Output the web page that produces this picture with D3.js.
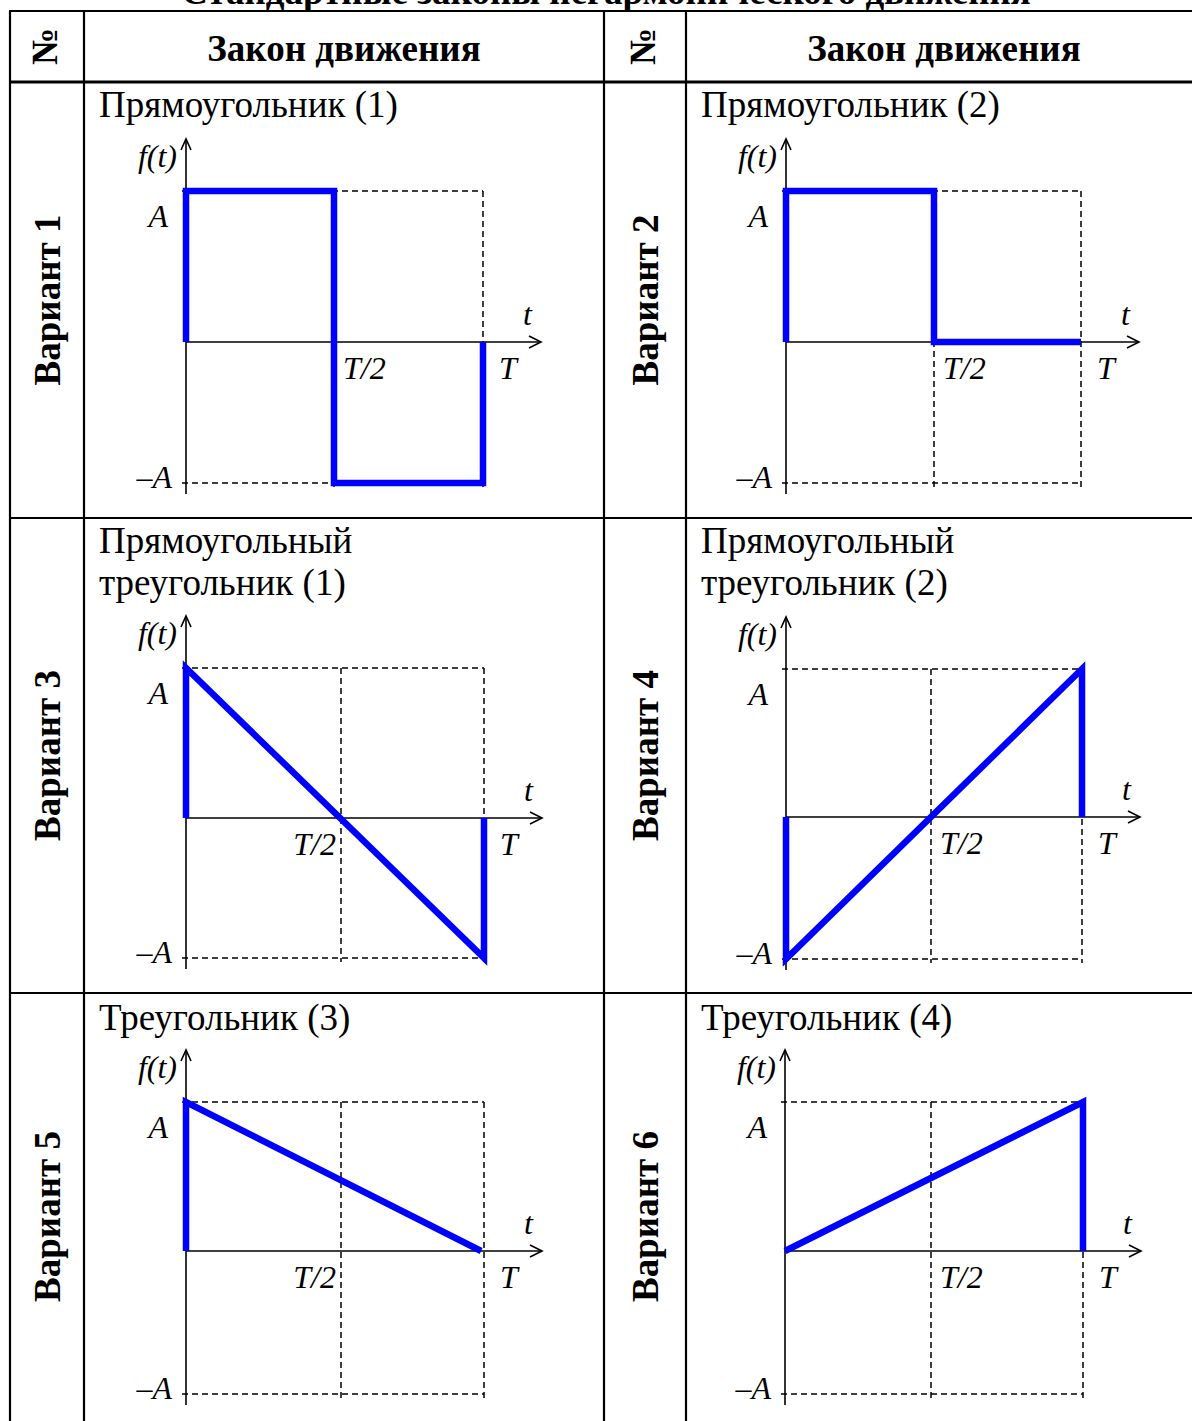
<!DOCTYPE html>
<html>
<head>
<meta charset="utf-8">
<script src="https://cdn.jsdelivr.net/npm/d3@7"></script>
<style>
body { margin: 0; background: #fff; }
text { font-family: "Liberation Serif", "Times New Roman", serif; fill: #000; }
.head { font-weight: bold; font-size: 37px; }
.law { font-size: 37px; }
.lbl { font-style: italic; font-size: 32px; }
.axis { stroke: #000; stroke-width: 1.6; fill: none; }
.guide { stroke: #000; stroke-width: 1.5; stroke-dasharray: 6,4; fill: none; }
.law-line { stroke: #0000ff; stroke-width: 6.5; fill: none; stroke-linejoin: miter; stroke-linecap: butt; }
.grid { stroke: #000; stroke-width: 2.2; fill: none; }
</style>
</head>
<body>
<svg width="1192" height="1421"></svg>
<script>
// data
var tableTitle = "Стандартные законы негармонического движения";
var headers = ["№", "Закон движения"];
var variants = ["Вариант 1", "Вариант 2", "Вариант 3", "Вариант 4", "Вариант 5", "Вариант 6"];
var lawNames = [
  ["Прямоугольник (1)"],
  ["Прямоугольник (2)"],
  ["Прямоугольный", "треугольник (1)"],
  ["Прямоугольный", "треугольник (2)"],
  ["Треугольник (3)"],
  ["Треугольник (4)"]
];
// points of f(t): [t in periods, f in units of A]
var law1 = [[0, 0], [0, 1], [0.5, 1], [0.5, -1], [1, -1], [1, 0]];
var law2 = [[0, 0], [0, 1], [0.5, 1], [0.5, 0], [1, 0]];
var law3 = [[0, 0], [0, 1], [1, -1], [1, 0]];
var law4 = [[0, 0], [0, -1], [1, 1], [1, 0]];
var law5 = [[0, 0], [0, 1], [0.99, 0]];
var law6 = [[0, 0], [1, 1], [1, 0]];
var laws = [law1, law2, law3, law4, law5, law6];
var xTicks = [0.5, 1];
var xTickLabels = ["T/2", "T"];
var yTicks = [1, -1];
var yTickLabels = ["A", "–A"];

var svg = d3.select("svg");

// table layout
var colX = [10, 84, 604, 686, 1202];
var rowY = [11, 82, 518, 993, 1440];

// hand drawn panels, so each one gets its own scale ranges
var panels = [
  {x: [186, 334, 483], y: [483, 342, 191], half: "start"},
  {x: [786, 934, 1081], y: [483, 342, 191], half: "start"},
  {x: [186, 341, 484], y: [958, 818, 668], half: "end"},
  {x: [786, 931, 1082], y: [959, 817, 669], half: "start"},
  {x: [186, 341, 484], y: [1394, 1251, 1102], half: "end"},
  {x: [785, 931, 1083], y: [1394, 1251, 1102], half: "start"}
];

svg.append("text")
.attr("class", "head")
.attr("x", 606)
.attr("y", 4)
.attr("text-anchor", "middle")
.text(tableTitle);

// grid
var grid = svg.append("g");
colX.forEach(function(x) {
  grid.append("line").attr("class", "grid")
  .attr("x1", x).attr("x2", x).attr("y1", rowY[0]).attr("y2", rowY[4]);
});
rowY.forEach(function(y, i) {
  grid.append("line").attr("class", "grid")
  .attr("x1", colX[0] - 1).attr("x2", colX[4]).attr("y1", y).attr("y2", y)
  .style("stroke-width", i == 1 ? 3 : 2.2);
});

// header
[0, 1].forEach(function(side) {
  var c = side * 2;
  svg.append("text")
  .attr("class", "head")
  .attr("transform", "translate(" + ((colX[c] + colX[c + 1]) / 2 + 10) + "," + ((rowY[0] + rowY[1]) / 2) + ") rotate(-90)")
  .attr("text-anchor", "middle")
  .text(headers[0]);

  svg.append("text")
  .attr("class", "head")
  .attr("x", (colX[c + 1] + colX[c + 2]) / 2)
  .attr("y", 61)
  .attr("text-anchor", "middle")
  .text(headers[1]);
});

var titleY = [117, 553, 1030];

laws.forEach(function(pts, i) {
  var row = Math.floor(i / 2);
  var side = i % 2;
  var p = panels[i];
  var g = svg.append("g");

  var xs = d3.scaleLinear().domain([0, 0.5, 1]).range(p.x);
  var ys = d3.scaleLinear().domain([-1, 0, 1]).range(p.y);

  // variant name, rotated
  g.append("text")
  .attr("class", "head")
  .attr("transform", "translate(" + ((colX[side * 2] + colX[side * 2 + 1]) / 2 + 13) + "," + ((rowY[row + 1] + rowY[row + 2]) / 2) + ") rotate(-90)")
  .attr("text-anchor", "middle")
  .text(variants[i]);

  g.selectAll(".law")
  .data(lawNames[i])
  .enter()
  .append("text")
  .attr("class", "law")
  .attr("x", colX[side * 2 + 1] + 15)
  .attr("y", (d, j) => titleY[row] + j * 42)
  .text(d => d);

  // dashed guides
  yTicks.forEach(function(v) {
    g.append("line").attr("class", "guide")
    .attr("x1", xs(0) - 4).attr("x2", xs(1))
    .attr("y1", ys(v)).attr("y2", ys(v));
  });
  xTicks.forEach(function(v) {
    g.append("line").attr("class", "guide")
    .attr("x1", xs(v)).attr("x2", xs(v))
    .attr("y1", ys(1)).attr("y2", ys(-1) + 4);
  });

  // axes with arrows
  var top = ys(1) - 52;
  var right = xs(1) + 58;
  g.append("line").attr("class", "axis")
  .attr("x1", xs(0)).attr("x2", xs(0)).attr("y1", ys(-1) + 11).attr("y2", top);
  g.append("path").attr("class", "axis")
  .attr("d", "M" + (xs(0) - 5) + "," + (top + 11) + "L" + xs(0) + "," + top + "L" + (xs(0) + 5) + "," + (top + 11));
  g.append("line").attr("class", "axis")
  .attr("x1", xs(0)).attr("x2", right).attr("y1", ys(0)).attr("y2", ys(0));
  g.append("path").attr("class", "axis")
  .attr("d", "M" + (right - 12) + "," + (ys(0) - 6) + "L" + right + "," + ys(0) + "L" + (right - 12) + "," + (ys(0) + 6));

  // labels
  g.append("text").attr("class", "lbl")
  .attr("x", xs(0) - 9).attr("y", ys(1) - 24).attr("text-anchor", "end")
  .text("f(t)");
  g.append("text").attr("class", "lbl")
  .attr("x", right - 18).attr("y", ys(0) - 17)
  .text("t");

  g.append("text").attr("class", "lbl")
  .attr("x", xs(0) - 18).attr("y", ys(yTicks[0]) + 36).attr("text-anchor", "end")
  .text(yTickLabels[0]);
  g.append("text").attr("class", "lbl")
  .attr("x", xs(0) - 14).attr("y", ys(yTicks[1]) + 5).attr("text-anchor", "end")
  .text(yTickLabels[1]);

  g.append("text").attr("class", "lbl")
  .attr("x", p.half == "start" ? xs(xTicks[0]) + 9 : xs(xTicks[0]) - 5)
  .attr("y", ys(0) + 37)
  .attr("text-anchor", p.half)
  .text(xTickLabels[0]);
  g.append("text").attr("class", "lbl")
  .attr("x", xs(xTicks[1]) + 16).attr("y", ys(0) + 37)
  .text(xTickLabels[1]);

  var line = d3.line().x(d => xs(d[0])).y(d => ys(d[1]));
  g.append("path")
  .attr("class", "law-line")
  .attr("d", line(pts));
});
</script>
</body>
</html>
